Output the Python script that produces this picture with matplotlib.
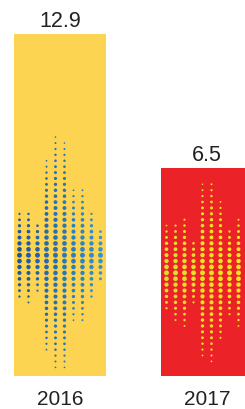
import matplotlib.pyplot as plt
import numpy as np

years = ["2016", "2017"]
values = [12.9, 6.5]
bar_colors = ["#FDD352", "#EC2229"]

# halftone columns: top / bottom of each column of dots (in value units)
dots_top_2016 = [4.41, 4.54, 3.98, 6.98, 8.12, 7.84, 5.45, 5.59, 4.46, 3.59]
dots_bot_2016 = [0.21, 0.05, 0.64, -2.38, -3.19, -3.19, -0.79, -0.95, 0.16, 1.01]
dots_top_2017 = [3.73, 3.98, 4.22, 3.08, 5.70, 5.94, 4.94, 3.70, 4.11, 3.90]
dots_bot_2017 = [-0.33, -0.84, -1.09, 0.10, -2.57, -2.81, -1.81, -0.55, -1.03, -0.80]

base = -3.43
fig = plt.figure(figsize=(2.45, 4.1), dpi=100)
ax = fig.add_axes([0, 0, 1, 1])
x = np.arange(len(years))
ax.bar(x, np.array(values) - base, bottom=base, width=0.626, color=bar_colors)

step = 0.2818
colw = 0.0612


def halftone(xc, tops, bots, center, c_left, c_right):
    c_left = np.array(plt.matplotlib.colors.to_rgb(c_left))
    c_right = np.array(plt.matplotlib.colors.to_rgb(c_right))
    n = len(tops)
    for i in range(n):
        xi = xc + (i - (n - 1) / 2) * colw
        k = np.arange(-40, 41)
        ys = center + k * step
        ys = ys[(ys <= tops[i] + 0.05) & (ys >= bots[i] - 0.05)]
        half = np.where(ys >= center, tops[i] - center, center - bots[i])
        f = 1 - np.abs(ys - center) / (half + step)
        s = 0.5 + 12 * f ** 1.0
        col = c_left + (c_right - c_left) * i / (n - 1)
        ax.scatter(np.full(len(ys), xi), ys, s=s, color=col, lw=0, zorder=3)


halftone(0, dots_top_2016, dots_bot_2016, 2.34, "#1D56A3", "#2E93D2")
halftone(1, dots_top_2017, dots_bot_2017, 1.50, "#D9DF2C", "#FCE51A")

for xi, v in zip(x, values):
    ax.annotate(f"{v}", (xi, v), xytext=(0, 6), textcoords="offset points",
                ha="center", va="baseline", fontsize=15.5, color="#222222",
                family="Liberation Sans")
for xi, y in zip(x, years):
    ax.text(xi, -4.77, y, ha="center", va="baseline", fontsize=15,
            color="#222222", family="Liberation Sans")

ax.set_xlim(-0.408, 1.2585)
ax.set_ylim(-5.0, 14.57)
ax.axis("off")
fig.savefig("out.png", dpi=100)
